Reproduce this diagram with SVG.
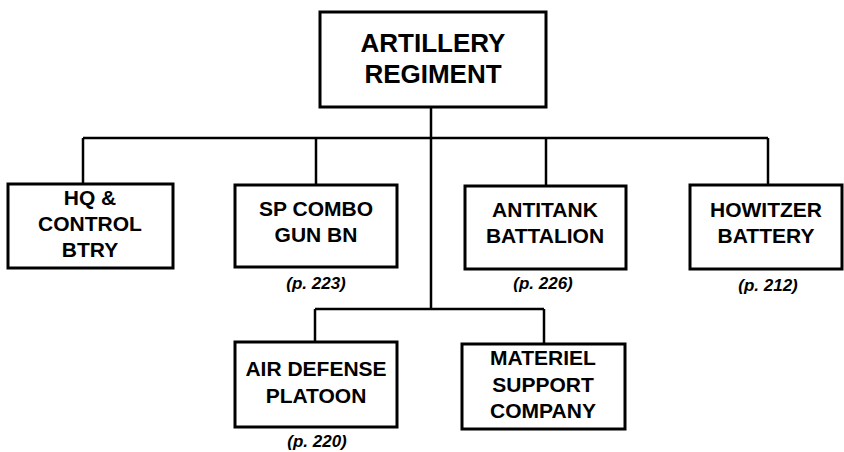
<svg xmlns="http://www.w3.org/2000/svg" width="844" height="452" viewBox="0 0 844 452">
<style>
  .box { fill: #fff; stroke: #000; stroke-width: 3; }
  .ln { stroke: #000; stroke-width: 2.5; fill: none; }
  .t { font-family: "Liberation Sans", Arial, sans-serif; font-weight: bold; font-size: 21px; text-anchor: middle; fill: #000; }
  .big { font-size: 26px; }
  .pg { font-family: "Liberation Sans", Arial, sans-serif; font-weight: bold; font-style: italic; font-size: 17px; text-anchor: middle; fill: #000; }
</style>
<rect width="844" height="452" fill="#fff"/>
<g id="connectors">
  <path class="ln" d="M431,107 V309"/>
  <path class="ln" d="M83,138 H768"/>
  <path class="ln" d="M83,138 V184"/>
  <path class="ln" d="M316,138 V185"/>
  <path class="ln" d="M546,138 V186"/>
  <path class="ln" d="M768,138 V185"/>
  <path class="ln" d="M315,309 H544"/>
  <path class="ln" d="M315,309 V342"/>
  <path class="ln" d="M544,309 V344"/>
</g>
<g id="artillery-regiment">
  <rect class="box" x="320" y="12" width="226" height="95"/>
  <text class="t big" x="433" y="52">ARTILLERY</text>
  <text class="t big" x="433" y="83">REGIMENT</text>
</g>
<g id="hq-control-btry">
  <rect class="box" x="8" y="184" width="165" height="84"/>
  <text class="t" x="90" y="205">HQ &amp;</text>
  <text class="t" x="90" y="231">CONTROL</text>
  <text class="t" x="90" y="257">BTRY</text>
</g>
<g id="sp-combo-gun-bn">
  <rect class="box" x="235" y="185" width="162" height="82"/>
  <text class="t" x="316" y="216">SP COMBO</text>
  <text class="t" x="316" y="242">GUN BN</text>
  <text class="pg" x="316" y="289">(p. 223)</text>
</g>
<g id="antitank-battalion">
  <rect class="box" x="465" y="186" width="161" height="83"/>
  <text class="t" x="545" y="217">ANTITANK</text>
  <text class="t" x="545" y="243">BATTALION</text>
  <text class="pg" x="543" y="289">(p. 226)</text>
</g>
<g id="howitzer-battery">
  <rect class="box" x="690" y="185" width="152" height="84"/>
  <text class="t" x="766" y="217">HOWITZER</text>
  <text class="t" x="766" y="243">BATTERY</text>
  <text class="pg" x="768" y="291">(p. 212)</text>
</g>
<g id="air-defense-platoon">
  <rect class="box" x="235" y="342" width="162" height="85"/>
  <text class="t" x="316" y="376">AIR DEFENSE</text>
  <text class="t" x="316" y="403">PLATOON</text>
  <text class="pg" x="317" y="447">(p. 220)</text>
</g>
<g id="materiel-support-company">
  <rect class="box" x="462" y="344" width="163" height="85"/>
  <text class="t" x="543" y="365">MATERIEL</text>
  <text class="t" x="543" y="392">SUPPORT</text>
  <text class="t" x="543" y="418">COMPANY</text>
</g>
</svg>
